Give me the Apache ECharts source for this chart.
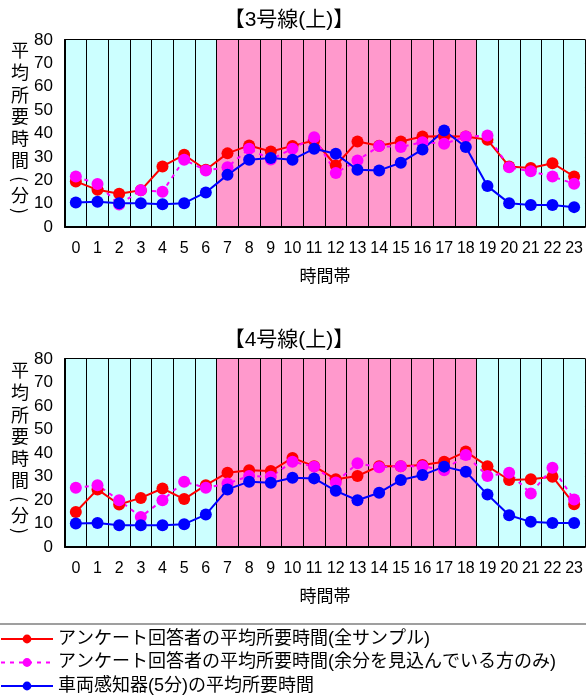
<!DOCTYPE html>
<html>
<head>
<meta charset="utf-8">
<script src="https://cdn.jsdelivr.net/npm/echarts@6/dist/echarts.min.js"></script>
<style>
  html, body { margin: 0; padding: 0; background: #fff; }
  #chart { width: 586px; height: 699px; }
</style>
</head>
<body>
<div id="chart"></div>
<script>
// Hour of day (0-23)
const hours = ['0','1','2','3','4','5','6','7','8','9','10','11','12','13','14','15','16','17','18','19','20','21','22','23'];

// 3号線(上): average travel time in minutes
const line3All    = [19.5,15.9,14.2,15.7,25.9,30.9,24.5,31.5,34.9,32.3,34.7,37.0,26.3,36.6,34.8,36.6,38.7,38.8,38.7,37.3,25.9,25.2,27.3,21.6];
const line3Margin = [21.6,18.4,9.6,15.7,15.1,28.8,24.2,25.6,33.5,28.9,33.5,38.4,23.1,28.5,34.6,34.2,36.3,35.6,38.7,39.1,25.6,23.8,21.6,18.5];
const line3Sensor = [10.5,10.8,10.2,10.2,9.7,10.2,14.8,22.3,28.8,29.5,28.8,33.5,31.3,24.5,24.2,27.5,33.2,41.3,34.2,17.5,10.2,9.4,9.4,8.5];

// 4号線(上): average travel time in minutes
const line4All    = [14.9,24.5,18.1,20.9,24.9,20.4,26.3,31.6,32.7,32.3,37.9,34.4,28.8,30.2,34.4,34.4,34.9,36.3,40.6,34.4,28.5,28.8,29.9,18.2];
const line4Margin = [25.2,26.3,19.9,12.8,19.9,27.8,25.2,27.0,30.2,29.9,36.3,34.2,27.5,35.6,33.9,34.4,34.4,32.7,39.1,30.2,31.6,22.8,33.7,20.2];
const line4Sensor = [10.0,10.2,9.3,9.3,9.3,9.7,13.8,24.5,27.8,27.3,29.5,29.2,23.9,19.9,23.1,28.5,30.6,34.2,32.0,22.3,13.5,10.7,10.2,10.2];

const titles = ['【3号線(上)】', '【4号線(上)】'];
const seriesNames = [
  'アンケート回答者の平均所要時間(全サンプル)',
  'アンケート回答者の平均所要時間(余分を見込んでいる方のみ)',
  '車両感知器(5分)の平均所要時間'
];

const FONT = '"Liberation Sans", Arial, "Noto Sans CJK JP", sans-serif';
const CYAN = '#CCFFFF';
const PINK = '#FF99CC';
// Off-peak hours cyan, daytime hours (7-18) pink
const bandColors = hours.map((h, i) => (i >= 7 && i <= 18) ? PINK : CYAN);

const grids = [
  { left: 65, right: 0, top: 40, height: 187 },
  { left: 65, right: 0, top: 359, height: 188 }
];

function xAxisFor(gridIndex) {
  return {
    type: 'category',
    gridIndex,
    data: hours,
    boundaryGap: true,
    name: '時間帯',
    nameLocation: 'middle',
    nameGap: 42,
    nameTextStyle: { fontFamily: FONT, fontSize: 17, color: '#000' },
    axisLine: { show: true, lineStyle: { color: '#000', width: 2 } },
    axisTick: { show: false },
    axisLabel: { interval: 0, margin: 14, fontFamily: FONT, fontSize: 16, color: '#000' },
    splitLine: { show: true, interval: 0, lineStyle: { color: '#000', width: 1 } },
    splitArea: { show: true, interval: 0, areaStyle: { color: bandColors } },
    z: 3
  };
}

function topBorderAxis(gridIndex) {
  return {
    type: 'category',
    gridIndex,
    position: 'top',
    data: hours,
    axisLine: { show: true, lineStyle: { color: '#000', width: 2 } },
    axisTick: { show: false },
    axisLabel: { show: false },
    splitLine: { show: false }
  };
}

function yAxisFor(gridIndex) {
  return {
    type: 'value',
    gridIndex,
    min: 0,
    max: 80,
    interval: 10,
    axisLine: { show: true, lineStyle: { color: '#000', width: 2 } },
    axisTick: { show: false },
    axisLabel: { margin: 12, fontFamily: FONT, fontSize: 17, color: '#000' },
    splitLine: { show: true, lineStyle: { color: '#000', width: 1 } }
  };
}

function lineSeries(name, data, color, dashed, axisIdx) {
  return {
    name,
    type: 'line',
    xAxisIndex: axisIdx,
    yAxisIndex: axisIdx,
    data,
    symbol: 'circle',
    symbolSize: 12,
    showAllSymbol: true,
    lineStyle: { color, width: 2, type: dashed ? [4, 5] : 'solid' },
    itemStyle: { color },
    z: 5,
    animation: false
  };
}

// Vertical y-axis caption, one glyph per row; brackets turned sideways
const yNameChars = [
  ['平', 50, 0], ['均', 72, 0], ['所', 95, 0], ['要', 116, 0], ['時', 138, 0],
  ['間', 160, 0], ['(', 179, -Math.PI / 2], ['分', 195, 0], [')', 211, -Math.PI / 2]
];
const graphics = [];
[0, 320].forEach((dy, k) => {
  yNameChars.forEach(([ch, cy, rot]) => {
    graphics.push({
      type: 'text', x: 20, y: cy + dy, rotation: rot,
      style: { text: ch, font: '18px "Noto Sans CJK JP", sans-serif', fill: '#000',
               textAlign: 'center', textVerticalAlign: 'middle' }
    });
  });
  graphics.push({
    type: 'text', x: 289, y: 20 + dy,
    style: { text: titles[k], font: '21px ' + FONT, fill: '#000',
             textAlign: 'center', textVerticalAlign: 'middle' }
  });
});
// Legend frame
graphics.push({
  type: 'rect', shape: { x: -5, y: 624, width: 600, height: 90 },
  style: { fill: 'none', stroke: '#808080', lineWidth: 1.5 }, z: -1
});

// One legend row per series so rows stack without wrapping
const legendRows = seriesNames.map((name, i) => ({
  orient: 'horizontal',
  left: 0,
  top: 630 + i * 23.5,
  padding: 0,
  itemWidth: 52,
  itemHeight: 11,
  textStyle: { fontFamily: FONT, fontSize: 18, color: '#000' },
  data: [name]
}));

const chart = echarts.init(document.getElementById('chart'), null, { renderer: 'canvas' });
chart.setOption({
  animation: false,
  backgroundColor: '#fff',
  grid: grids,
  xAxis: [xAxisFor(0), xAxisFor(1), topBorderAxis(0), topBorderAxis(1)],
  yAxis: [yAxisFor(0), yAxisFor(1)],
  legend: legendRows,
  graphic: graphics,
  series: [
    lineSeries(seriesNames[0], line3All, '#FF0000', false, 0),
    lineSeries(seriesNames[1], line3Margin, '#FF00FF', true, 0),
    lineSeries(seriesNames[2], line3Sensor, '#0000FF', false, 0),
    lineSeries(seriesNames[0], line4All, '#FF0000', false, 1),
    lineSeries(seriesNames[1], line4Margin, '#FF00FF', true, 1),
    lineSeries(seriesNames[2], line4Sensor, '#0000FF', false, 1)
  ]
});
</script>
</body>
</html>
